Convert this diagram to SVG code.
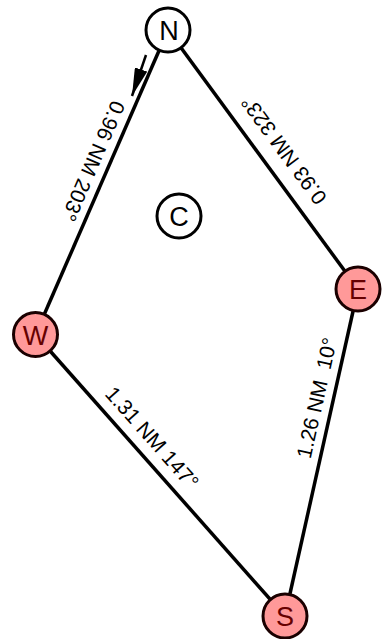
<svg xmlns="http://www.w3.org/2000/svg" width="383" height="639" viewBox="0 0 383 639">
<style>
.edge{stroke:#000;stroke-width:3.5;fill:none}
.lbl{font-family:"Liberation Sans",Arial,sans-serif;font-size:21px;fill:#000;text-anchor:middle}
.wp circle{fill:#ff9999;stroke:#1a0000;stroke-width:3}
.wp text{fill:#660000}
.pl circle{fill:#fff;stroke:#000;stroke-width:3}
.pl text{fill:#000}
.nt{font-family:"Liberation Sans",Arial,sans-serif;font-size:27px;text-anchor:middle}
</style>
<defs>
<marker id="ah" markerUnits="userSpaceOnUse" markerWidth="28" markerHeight="13" refX="28" refY="6.5" orient="auto">
<path d="M0,0 L28,6.5 L0,13 z" fill="#000"/>
</marker>
</defs>
<g id="connectors">
<line class="edge" x1="168" y1="30" x2="35.5" y2="334.5"/>
<line class="edge" x1="168" y1="30" x2="358" y2="289"/>
<line class="edge" x1="35.5" y1="334.5" x2="285" y2="616"/>
<line class="edge" x1="358" y1="289" x2="285" y2="616"/>
<line x1="146" y1="55" x2="132" y2="96" stroke="#000" stroke-width="2.5" marker-end="url(#ah)"/>
<text class="lbl" transform="translate(93,161) rotate(113.5)" dy="7">0.96 NM 203°</text>
<text class="lbl" transform="translate(284,150) rotate(-126.3)" dy="7">0.93 NM 323°</text>
<text class="lbl" transform="translate(152,438) rotate(48.45)" dy="7">1.31 NM 147°</text>
<text class="lbl" transform="translate(317,398) rotate(-77.4)" dy="7" xml:space="preserve">1.26 NM  10°</text>
</g>
<g id="N" class="pl"><circle cx="168" cy="30" r="22"/><text class="nt" x="169" y="40">N</text></g>
<g id="C" class="pl"><circle cx="179" cy="216" r="22"/><text class="nt" x="179" y="226">C</text></g>
<g id="W" class="wp"><circle cx="35.5" cy="334.5" r="22"/><text class="nt" x="35.5" y="344.5">W</text></g>
<g id="E" class="wp"><circle cx="358" cy="289" r="22"/><text class="nt" x="358" y="299">E</text></g>
<g id="S" class="wp"><circle cx="285" cy="616" r="22"/><text class="nt" x="285" y="626">S</text></g>
</svg>
